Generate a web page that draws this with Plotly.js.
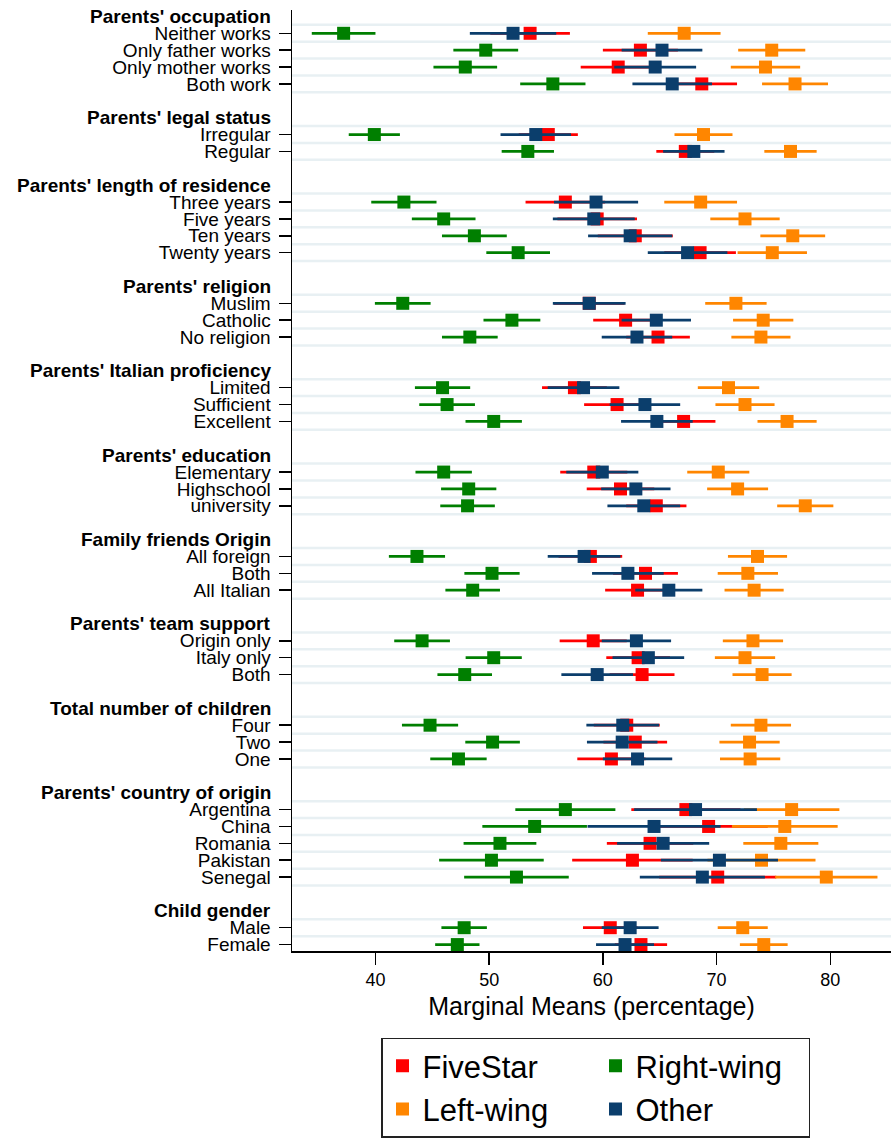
<!DOCTYPE html>
<html>
<head>
<meta charset="utf-8">
<script src="https://cdn.plot.ly/plotly-3.0.1.min.js"></script>
<style>html,body{margin:0;padding:0;background:#fff;}#chart{width:891px;height:1148px;}</style>
</head>
<body>
<div id="chart"></div>
<script>
// ---- Data ----
const groupNames = [
  "Parents' occupation", "Parents' legal status", "Parents' length of residence",
  "Parents' religion", "Parents' Italian proficiency", "Parents' education",
  "Family friends Origin", "Parents' team support", "Total number of children",
  "Parents' country of origin", "Child gender"
];
const groupItems = [
  ["Neither works", "Only father works", "Only mother works", "Both work"],
  ["Irregular", "Regular"],
  ["Three years", "Five years", "Ten years", "Twenty years"],
  ["Muslim", "Catholic", "No religion"],
  ["Limited", "Sufficient", "Excellent"],
  ["Elementary", "Highschool", "university"],
  ["All foreign", "Both", "All Italian"],
  ["Origin only", "Italy only", "Both"],
  ["Four", "Two", "One"],
  ["Argentina", "China", "Romania", "Pakistan", "Senegal"],
  ["Male", "Female"]
];
const seriesNames = ["FiveStar", "Right-wing", "Left-wing", "Other"];

const fiveStar = [53.6, 63.3, 61.35, 68.7, 55.2, 67.25, 56.7, 59.5, 62.85, 68.55,
  58.8, 62.0, 64.85, 57.5, 61.25, 67.1, 59.2, 61.55, 64.7, 58.9, 63.75, 63.05,
  59.15, 63.1, 63.45, 62.1, 62.85, 60.75, 67.3, 69.3, 64.15, 62.6, 70.1, 60.65, 63.35];
const fiveStarCI = [3.5, 3.3, 3.3, 3.1, 2.6, 2.55, 3.5, 3.5, 3.3, 3.15,
  3.1, 2.85, 2.8, 2.85, 2.9, 2.8, 2.95, 2.97, 2.65, 2.8, 2.85, 2.85,
  2.95, 2.8, 2.85, 2.9, 2.8, 3.0, 4.8, 5.2, 3.8, 5.3, 5.15, 2.4, 2.3];

const rightWing = [37.2, 49.7, 47.9, 55.6, 39.9, 53.4, 42.5, 46.0, 48.7, 52.55,
  42.4, 52.0, 48.3, 45.9, 46.3, 50.4, 46.0, 48.2, 48.1, 43.65, 50.25, 48.55,
  44.1, 50.4, 47.85, 44.8, 50.3, 47.3, 56.7, 54.0, 50.95, 50.2, 52.4, 47.8, 47.2];
const rightWingCI = [2.8, 2.85, 2.8, 2.87, 2.25, 2.3, 2.87, 2.8, 2.85, 2.8,
  2.45, 2.5, 2.45, 2.43, 2.45, 2.48, 2.48, 2.43, 2.4, 2.47, 2.43, 2.4,
  2.45, 2.47, 2.4, 2.47, 2.4, 2.48, 4.4, 4.6, 3.2, 4.6, 4.6, 2.0, 1.95];

const leftWing = [67.15, 74.85, 74.3, 76.9, 68.85, 76.5, 68.6, 72.5, 76.7, 74.9,
  71.7, 74.1, 73.9, 71.05, 72.5, 76.2, 70.15, 71.85, 77.8, 73.6, 72.75, 73.3,
  73.2, 72.5, 74.0, 73.9, 72.9, 72.95, 76.6, 76.0, 75.65, 73.95, 79.65, 72.3, 74.15];
const leftWingCI = [3.2, 2.95, 3.05, 2.9, 2.55, 2.3, 3.2, 3.05, 2.85, 3.05,
  2.7, 2.65, 2.6, 2.7, 2.6, 2.6, 2.73, 2.68, 2.47, 2.6, 2.65, 2.6,
  2.65, 2.65, 2.6, 2.65, 2.65, 2.65, 4.2, 4.65, 3.3, 4.75, 4.5, 2.2, 2.1];

const other = [52.1, 65.2, 64.6, 66.1, 54.1, 68.0, 59.4, 59.2, 62.4, 67.45,
  58.8, 64.7, 63.0, 58.3, 63.7, 64.75, 59.95, 62.9, 63.6, 58.35, 62.2, 65.8,
  62.95, 64.0, 59.5, 61.75, 61.7, 63.05, 68.15, 64.5, 65.3, 70.25, 68.75, 62.4, 61.95];
const otherCI = [3.8, 3.55, 3.6, 3.5, 3.1, 2.7, 3.7, 3.6, 3.7, 3.5,
  3.2, 3.05, 3.1, 3.15, 3.1, 3.15, 3.17, 3.05, 3.2, 3.2, 3.15, 2.95,
  3.05, 3.15, 3.15, 3.2, 3.1, 3.05, 5.4, 5.85, 4.05, 5.15, 5.5, 2.5, 2.55];

const xTicks = [40, 50, 60, 70, 80];

// ---- Layout of rows (header, items, blank) ----
const headerPos = [];
const itemPos = [];
const itemText = [];
const gridPos = [];
let pos = 0;
groupNames.forEach((g, gi) => {
  headerPos.push(pos);
  const items = groupItems[gi];
  gridPos.push(pos + 0.5);
  items.forEach((it, k) => {
    itemPos.push(pos + 1 + k);
    itemText.push(it);
    gridPos.push(pos + 1 + k + 0.5);
  });
  pos += items.length + 2;
});
const lastRow = itemPos[itemPos.length - 1];

const FONT = "Liberation Sans, Arial, Helvetica, sans-serif";
const colors = ["#ff0000", "#007f00", "#ff8600", "#0b3e6c"];
const vals = [fiveStar, rightWing, leftWing, other];
const cis = [fiveStarCI, rightWingCI, leftWingCI, otherCI];

const traces = seriesNames.map((name, i) => ({
  type: "scatter",
  mode: "markers",
  name: name,
  x: vals[i],
  y: itemPos,
  marker: { symbol: "square", size: 13, color: colors[i] },
  error_x: { type: "data", array: cis[i], symmetric: true, color: colors[i], thickness: 2.7, width: 0 },
  hoverinfo: "x+name"
}));

const shapes = gridPos.map(v => ({
  type: "line", xref: "paper", x0: 0, x1: 1, yref: "y", y0: v, y1: v,
  line: { color: "#e8f0f3", width: 2.5 }, layer: "below"
}));

const annotations = groupNames.map((g, gi) => ({
  xref: "paper", x: 0, xanchor: "right", xshift: -19,
  yref: "y", y: headerPos[gi], yanchor: "middle",
  text: "<b>" + g + "</b>", showarrow: false,
  font: { family: FONT, size: 19, color: "#000" }
}));

const layout = {
  width: 891, height: 1148,
  margin: { l: 292, r: 0, t: 10, b: 197, autoexpand: false },
  paper_bgcolor: "#fff", plot_bgcolor: "#fff",
  font: { family: FONT, color: "#000" },
  showlegend: true,
  legend: {
    orientation: "h", xref: "paper", yref: "paper",
    x: 0.1486, xanchor: "left", y: -0.092, yanchor: "top",
    bordercolor: "#222", borderwidth: 1.5, bgcolor: "#fff",
    font: { family: FONT, size: 31, color: "#000" },
    entrywidth: 168, entrywidthmode: "pixels",
    itemwidth: 30
  },
  xaxis: {
    range: [32.66, 85.34],
    tickmode: "array", tickvals: xTicks, ticktext: xTicks.map(String),
    ticks: "outside", ticklen: 12, tickwidth: 1.5, tickcolor: "#000",
    showline: true, linecolor: "#000", linewidth: 1.5,
    showgrid: false, zeroline: false,
    tickfont: { family: FONT, size: 18, color: "#000" },
    title: { text: "Marginal Means (percentage)", font: { family: FONT, size: 25, color: "#000" }, standoff: 8 }
  },
  yaxis: {
    range: [lastRow + 0.38, -0.38],
    tickmode: "array", tickvals: itemPos, ticktext: itemText,
    ticks: "outside", ticklen: 12, tickwidth: 1.5, tickcolor: "#000",
    ticklabelstandoff: 4,
    showline: true, linecolor: "#000", linewidth: 1.5,
    showgrid: false, zeroline: false,
    tickfont: { family: FONT, size: 19, color: "#000" }
  },
  shapes: shapes,
  annotations: annotations
};

Plotly.newPlot("chart", traces, layout, { displayModeBar: false, staticPlot: true });
</script>
</body>
</html>
